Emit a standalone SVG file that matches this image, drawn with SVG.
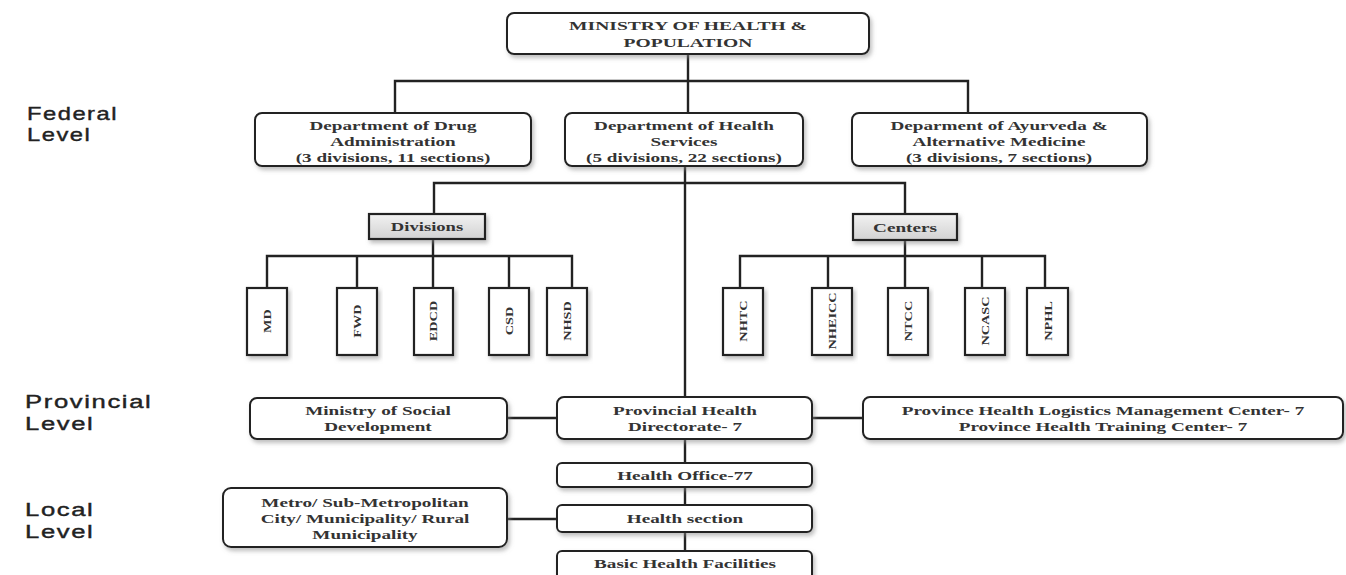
<svg xmlns="http://www.w3.org/2000/svg" width="1346" height="575" viewBox="0 0 1346 575">
<defs>
<filter id="sh" x="-10%" y="-20%" width="125%" height="160%">
<feDropShadow dx="2" dy="3" stdDeviation="2" flood-color="#888" flood-opacity="0.55"/>
</filter>
<linearGradient id="gr" x1="0" y1="0" x2="0" y2="1">
<stop offset="0" stop-color="#f2f2f2"/>
<stop offset="1" stop-color="#d2d2d2"/>
</linearGradient>
</defs>
<style>
.box{fill:#fff;stroke:#222;stroke-width:2;filter:url(#sh)}
.gbox{fill:url(#gr);stroke:#222;stroke-width:2.2;filter:url(#sh)}
.sbox{fill:#fff;stroke:#222;stroke-width:2.2;filter:url(#sh)}
.ln{fill:none;stroke:#222;stroke-width:2.4}
.t{font-family:"Liberation Serif","Times New Roman",serif;font-weight:bold;font-size:13.5px;fill:#333;text-anchor:middle}
.v{font-family:"Liberation Serif","Times New Roman",serif;font-weight:bold;font-size:11px;fill:#333;text-anchor:middle}
.lv{font-family:"Liberation Sans",Arial,sans-serif;font-size:19px;fill:#222;stroke:#222;stroke-width:0.4;letter-spacing:1.2px}
</style>
<rect width="1346" height="575" fill="#fff"/>

<g id="levels">
<text class="lv" transform="translate(27,120) scale(1.25,1)">Federal</text>
<text class="lv" transform="translate(27,141) scale(1.25,1)">Level</text>
<text class="lv" transform="translate(25,408) scale(1.35,1)">Provincial</text>
<text class="lv" transform="translate(25,430) scale(1.35,1)">Level</text>
<text class="lv" transform="translate(25,516) scale(1.35,1)">Local</text>
<text class="lv" transform="translate(25,538) scale(1.35,1)">Level</text>
</g>

<g id="connectors">
<path class="ln" d="M688 54V113M395 113V81H968V113"/>
<path class="ln" d="M685 166V397M434 215V183H905V215"/>
<path class="ln" d="M433 239V256M267 288V256H572V288M357 256V288M433 256V288M509 256V288"/>
<path class="ln" d="M905 240V256M740 288V256H1045V288M828 256V288M905 256V288M982 256V288"/>
<path class="ln" d="M507 418H557M812 418H863"/>
<path class="ln" d="M685 439V463M685 487V505M685 532V551M507 519H557"/>
</g>

<g id="ministry">
<rect class="box" x="507" y="13" width="362" height="41" rx="7"/>
<text class="t" transform="translate(688,30) scale(1.45,1)">MINISTRY OF HEALTH &amp;</text>
<text class="t" transform="translate(688,47) scale(1.45,1)">POPULATION</text>
</g>

<g id="dda">
<rect class="box" x="255" y="113" width="276" height="53" rx="7"/>
<text class="t" transform="translate(393,130) scale(1.42,1)">Department of Drug</text>
<text class="t" transform="translate(393,146) scale(1.42,1)">Administration</text>
<text class="t" transform="translate(393,162) scale(1.42,1)">(3 divisions, 11 sections)</text>
</g>

<g id="dhs">
<rect class="box" x="565" y="113" width="238" height="53" rx="7"/>
<text class="t" transform="translate(684,130) scale(1.42,1)">Department of Health</text>
<text class="t" transform="translate(684,146) scale(1.42,1)">Services</text>
<text class="t" transform="translate(684,162) scale(1.42,1)">(5 divisions, 22 sections)</text>
</g>

<g id="daam">
<rect class="box" x="852" y="113" width="295" height="53" rx="7"/>
<text class="t" transform="translate(999,130) scale(1.42,1)">Deparment of Ayurveda  &amp;</text>
<text class="t" transform="translate(999,146) scale(1.42,1)">Alternative Medicine</text>
<text class="t" transform="translate(999,162) scale(1.42,1)">(3 divisions, 7 sections)</text>
</g>

<g id="divisions">
<rect class="gbox" x="369" y="214" width="116" height="25"/>
<text class="t" style="font-size:12px" transform="translate(427,231) scale(1.55,1)">Divisions</text>
</g>
<g id="centers">
<rect class="gbox" x="853" y="214" width="104" height="26"/>
<text class="t" style="font-size:12px" transform="translate(905,232) scale(1.6,1)">Centers</text>
</g>

<g id="md"><rect class="sbox" x="247" y="288" width="40" height="67"/><text class="v" transform="translate(267,321) rotate(-90) scale(1.3,1)" y="4">MD</text></g>
<g id="fwd"><rect class="sbox" x="337" y="288" width="40" height="67"/><text class="v" transform="translate(357,321) rotate(-90) scale(1.3,1)" y="4">FWD</text></g>
<g id="edcd"><rect class="sbox" x="414" y="288" width="39" height="67"/><text class="v" transform="translate(433,321) rotate(-90) scale(1.3,1)" y="4">EDCD</text></g>
<g id="csd"><rect class="sbox" x="489" y="288" width="40" height="67"/><text class="v" transform="translate(509,321) rotate(-90) scale(1.3,1)" y="4">CSD</text></g>
<g id="nhsd"><rect class="sbox" x="547" y="288" width="40" height="67"/><text class="v" transform="translate(567,321) rotate(-90) scale(1.3,1)" y="4">NHSD</text></g>

<g id="nhtc"><rect class="sbox" x="723" y="288" width="40" height="67"/><text class="v" transform="translate(743,321) rotate(-90) scale(1.3,1)" y="4">NHTC</text></g>
<g id="nheicc"><rect class="sbox" x="812" y="288" width="40" height="67"/><text class="v" transform="translate(832,321) rotate(-90) scale(1.3,1)" y="4">NHEICC</text></g>
<g id="ntcc"><rect class="sbox" x="888" y="288" width="40" height="67"/><text class="v" transform="translate(908,321) rotate(-90) scale(1.3,1)" y="4">NTCC</text></g>
<g id="ncasc"><rect class="sbox" x="965" y="288" width="40" height="67"/><text class="v" transform="translate(985,321) rotate(-90) scale(1.3,1)" y="4">NCASC</text></g>
<g id="nphl"><rect class="sbox" x="1027" y="288" width="41" height="67"/><text class="v" transform="translate(1048,321) rotate(-90) scale(1.3,1)" y="4">NPHL</text></g>

<g id="mosd">
<rect class="box" x="250" y="398" width="257" height="41" rx="7"/>
<text class="t" transform="translate(378,415) scale(1.42,1)">Ministry of Social</text>
<text class="t" transform="translate(378,431) scale(1.42,1)">Development</text>
</g>

<g id="phd">
<rect class="box" x="557" y="397" width="255" height="42" rx="7"/>
<text class="t" transform="translate(685,415) scale(1.42,1)">Provincial Health</text>
<text class="t" transform="translate(685,431) scale(1.42,1)">Directorate- 7</text>
</g>

<g id="phlmc">
<rect class="box" x="863" y="397" width="480" height="42" rx="7"/>
<text class="t" transform="translate(1103,415) scale(1.42,1)">Province Health Logistics Management Center- 7</text>
<text class="t" transform="translate(1103,431) scale(1.42,1)">Province Health Training Center- 7</text>
</g>

<g id="ho">
<rect class="box" x="557" y="463" width="255" height="24" rx="5"/>
<text class="t" transform="translate(685,480) scale(1.42,1)">Health Office-77</text>
</g>

<g id="metro">
<rect class="box" x="223" y="488" width="284" height="59" rx="8"/>
<text class="t" transform="translate(365,507) scale(1.42,1)">Metro/ Sub-Metropolitan</text>
<text class="t" transform="translate(365,523) scale(1.42,1)">City/ Municipality/ Rural</text>
<text class="t" transform="translate(365,539) scale(1.42,1)">Municipality</text>
</g>

<g id="hs">
<rect class="box" x="557" y="505" width="255" height="27" rx="5"/>
<text class="t" transform="translate(685,523) scale(1.42,1)">Health section</text>
</g>

<g id="bhf">
<rect class="box" x="557" y="551" width="255" height="30" rx="5"/>
<text class="t" transform="translate(685,568) scale(1.42,1)">Basic Health Facilities</text>
</g>
</svg>
